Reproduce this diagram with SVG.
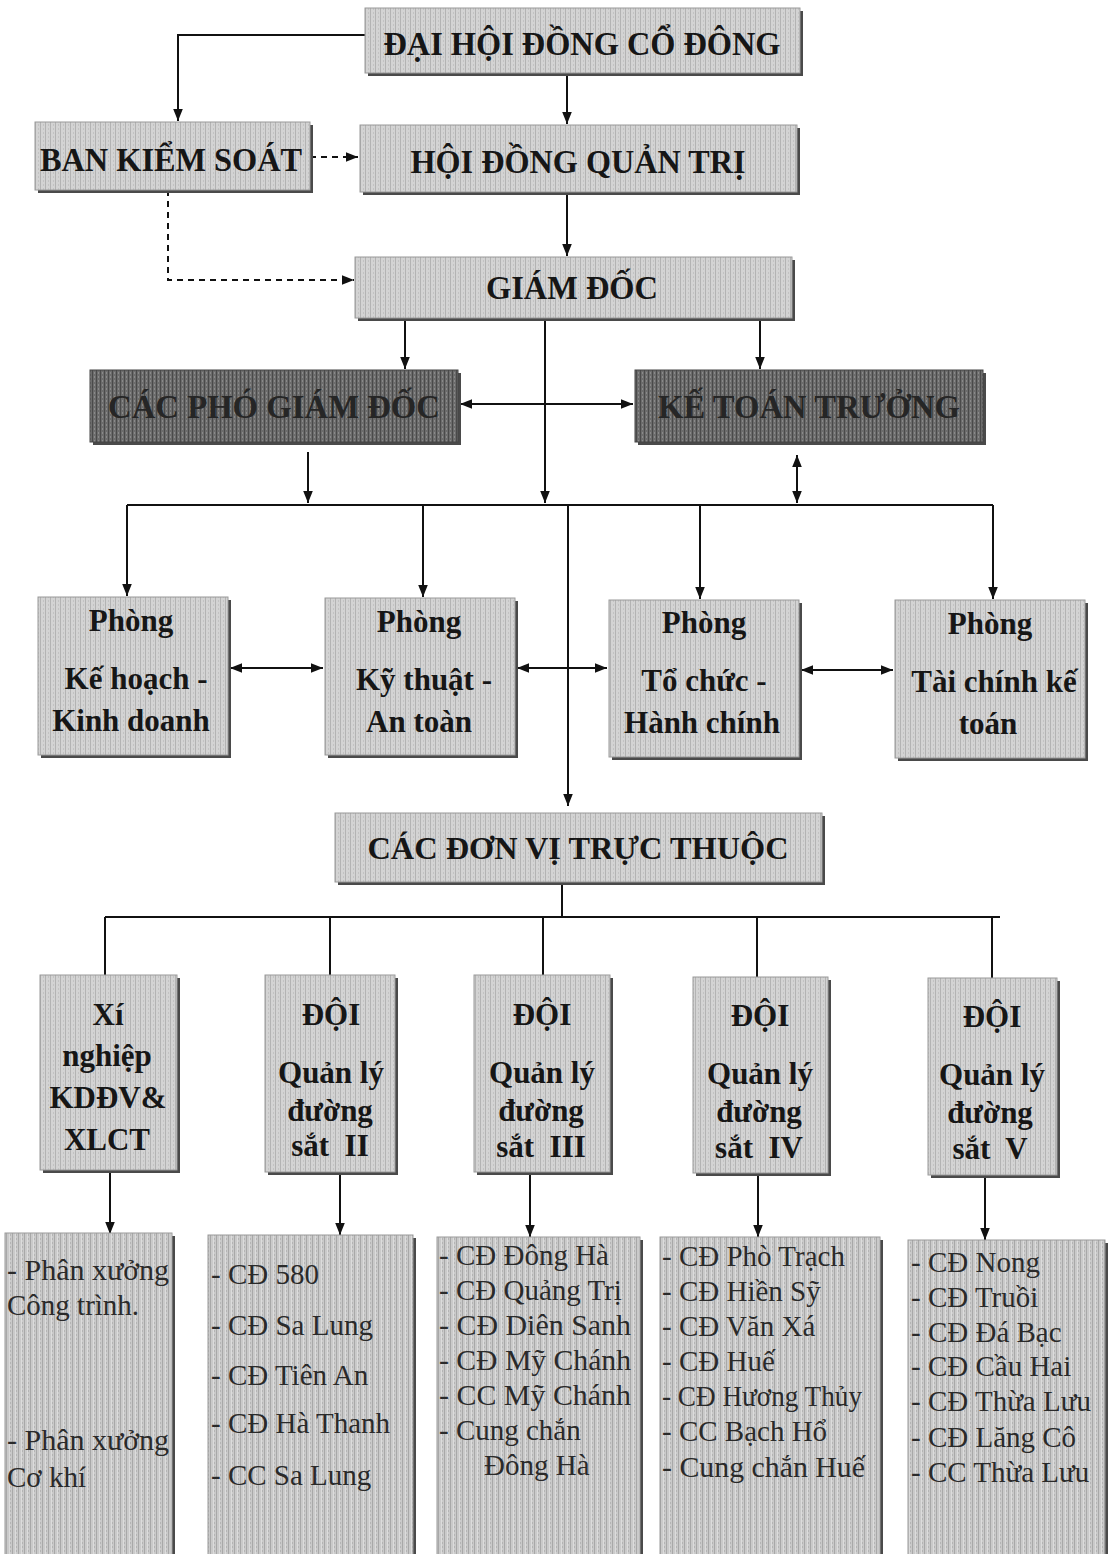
<svg xmlns="http://www.w3.org/2000/svg" width="1108" height="1554" viewBox="0 0 1108 1554">
<style>
.bx{fill:url(#tex);stroke:#9a9a9a;stroke-width:1}
.dk{fill:url(#texd);stroke:#444;stroke-width:1}
.sh{fill:#4a4a4a}
.h{font-family:"Liberation Serif","Times New Roman",serif;font-weight:bold;fill:#161616;text-anchor:middle}
.hd{font-family:"Liberation Serif","Times New Roman",serif;font-weight:bold;fill:#262626;text-anchor:middle}
.p{font-family:"Liberation Serif","Times New Roman",serif;font-weight:bold;font-size:31px;fill:#161616;text-anchor:middle}
.l{font-family:"Liberation Serif","Times New Roman",serif;font-size:29px;fill:#2a2a2a}
.c{fill:none;stroke:#111;stroke-width:2}
.d{fill:none;stroke:#111;stroke-width:2;stroke-dasharray:6 5}
</style>
<defs>
<pattern id="tex" width="5" height="4" patternUnits="userSpaceOnUse"><rect width="5" height="4" fill="#d3d3d3"/><rect width="1" height="4" fill="#b3b3b3"/><rect x="3" width="1" height="2" fill="#c2c2c2"/></pattern>
<pattern id="texl" width="6" height="4" patternUnits="userSpaceOnUse"><rect width="6" height="4" fill="#cacaca"/><rect width="1" height="4" fill="#a8a8a8"/><rect x="3" width="1" height="4" fill="#dcdcdc"/><rect x="4" y="2" width="1" height="2" fill="#b4b4b4"/></pattern>
<pattern id="texd" width="4" height="4" patternUnits="userSpaceOnUse"><rect width="4" height="4" fill="#6c6c6c"/><rect width="1" height="4" fill="#4a4a4a"/><rect x="2" width="1" height="2" fill="#8a8a8a"/></pattern>
<marker id="ah" viewBox="0 0 10 10" refX="10" refY="5" markerWidth="12" markerHeight="12" markerUnits="userSpaceOnUse" orient="auto-start-reverse"><path d="M0,1 L10,5 L0,9 z" fill="#111"/></marker>
</defs>
<rect width="1108" height="1554" fill="#ffffff"/>

<g id="connectors">
<path class="c" d="M365,35 H178 V121" marker-end="url(#ah)"/>
<path class="c" d="M567,73 V124" marker-end="url(#ah)"/>
<path class="d" d="M310,157 H358" marker-end="url(#ah)"/>
<path class="c" d="M567,192 V256" marker-end="url(#ah)"/>
<path class="d" d="M168,190 V280 H354" marker-end="url(#ah)"/>
<path class="c" d="M405,318 V369" marker-end="url(#ah)"/>
<path class="c" d="M545,318 V503" marker-end="url(#ah)"/>
<path class="c" d="M760,318 V369" marker-end="url(#ah)"/>
<path class="c" d="M460,404 H633" marker-start="url(#ah)" marker-end="url(#ah)"/>
<path class="c" d="M308,452 V503" marker-end="url(#ah)"/>
<path class="c" d="M797,455 V503" marker-start="url(#ah)" marker-end="url(#ah)"/>
<path class="c" d="M127,505 H993"/>
<path class="c" d="M127,505 V596" marker-end="url(#ah)"/>
<path class="c" d="M423,505 V597" marker-end="url(#ah)"/>
<path class="c" d="M700,505 V599" marker-end="url(#ah)"/>
<path class="c" d="M993,505 V599" marker-end="url(#ah)"/>
<path class="c" d="M568,505 V806" marker-end="url(#ah)"/>
<path class="c" d="M230,668 H323" marker-start="url(#ah)" marker-end="url(#ah)"/>
<path class="c" d="M517,668 H607" marker-start="url(#ah)" marker-end="url(#ah)"/>
<path class="c" d="M801,670 H893" marker-start="url(#ah)" marker-end="url(#ah)"/>
<path class="c" d="M562,882 V917"/>
<path class="c" d="M105,917 H1000"/>
<path class="c" d="M105,917 V975"/>
<path class="c" d="M330,917 V975"/>
<path class="c" d="M543,917 V975"/>
<path class="c" d="M757,917 V977"/>
<path class="c" d="M992,917 V978"/>
<path class="c" d="M110,1172 V1234" marker-end="url(#ah)"/>
<path class="c" d="M340,1173 V1235" marker-end="url(#ah)"/>
<path class="c" d="M530,1173 V1237" marker-end="url(#ah)"/>
<path class="c" d="M758,1174 V1237" marker-end="url(#ah)"/>
<path class="c" d="M985,1176 V1240" marker-end="url(#ah)"/>
</g>

<g id="dai-hoi-dong-co-dong">
<rect class="sh" x="368" y="11" width="435" height="65"/>
<rect class="bx" x="365" y="8" width="435" height="65"/>
<text class="h" x="582" y="55" font-size="34" textLength="397" lengthAdjust="spacingAndGlyphs">ĐẠI HỘI ĐỒNG CỔ ĐÔNG</text>
</g>
<g id="ban-kiem-soat">
<rect class="sh" x="38" y="125" width="275" height="68"/>
<rect class="bx" x="35" y="122" width="275" height="68"/>
<text class="h" x="171" y="171" font-size="34" textLength="262" lengthAdjust="spacingAndGlyphs">BAN KIỂM SOÁT</text>
</g>
<g id="hoi-dong-quan-tri">
<rect class="sh" x="363" y="128" width="437" height="67"/>
<rect class="bx" x="360" y="125" width="437" height="67"/>
<text class="h" x="578" y="173" font-size="34" textLength="335" lengthAdjust="spacingAndGlyphs">HỘI ĐỒNG QUẢN TRỊ</text>
</g>
<g id="giam-doc">
<rect class="sh" x="358" y="260" width="437" height="61"/>
<rect class="bx" x="355" y="257" width="437" height="61"/>
<text class="h" x="572" y="299" font-size="34" textLength="172" lengthAdjust="spacingAndGlyphs">GIÁM ĐỐC</text>
</g>
<g id="cac-pho-giam-doc">
<rect class="sh" x="93" y="373" width="368" height="72"/>
<rect class="dk" x="90" y="370" width="368" height="72"/>
<text class="hd" x="274" y="418" font-size="34" textLength="332" lengthAdjust="spacingAndGlyphs">CÁC PHÓ GIÁM ĐỐC</text>
</g>
<g id="ke-toan-truong">
<rect class="sh" x="638" y="373" width="348" height="72"/>
<rect class="dk" x="635" y="370" width="348" height="72"/>
<text class="hd" x="809" y="418" font-size="34" textLength="302" lengthAdjust="spacingAndGlyphs">KẾ TOÁN TRƯỞNG</text>
</g>

<g id="phong-ke-hoach">
<rect class="sh" x="41" y="600" width="190" height="158"/>
<rect class="bx" x="38" y="597" width="190" height="158"/>
<text class="p" x="131" y="631">Phòng</text>
<text class="p" x="136" y="689">Kế hoạch -</text>
<text class="p" x="131" y="731">Kinh doanh</text>
</g>
<g id="phong-ky-thuat">
<rect class="sh" x="328" y="601" width="190" height="157"/>
<rect class="bx" x="325" y="598" width="190" height="157"/>
<text class="p" x="419" y="632">Phòng</text>
<text class="p" x="424" y="690">Kỹ thuật -</text>
<text class="p" x="419" y="732">An toàn</text>
</g>
<g id="phong-to-chuc">
<rect class="sh" x="612" y="603" width="190" height="157"/>
<rect class="bx" x="609" y="600" width="190" height="157"/>
<text class="p" x="704" y="633">Phòng</text>
<text class="p" x="704" y="691">Tổ chức -</text>
<text class="p" x="702" y="733">Hành chính</text>
</g>
<g id="phong-tai-chinh">
<rect class="sh" x="898" y="603" width="190" height="158"/>
<rect class="bx" x="895" y="600" width="190" height="158"/>
<text class="p" x="990" y="634">Phòng</text>
<text class="p" x="994" y="692">Tài chính kế</text>
<text class="p" x="988" y="734">toán</text>
</g>

<g id="cac-don-vi-truc-thuoc">
<rect class="sh" x="338" y="816" width="487" height="69"/>
<rect class="bx" x="335" y="813" width="487" height="69"/>
<text class="h" x="578" y="859" font-size="31" textLength="421" lengthAdjust="spacingAndGlyphs">CÁC ĐƠN VỊ TRỰC THUỘC</text>
</g>

<g id="xi-nghiep">
<rect class="sh" x="43" y="978" width="137" height="195"/>
<rect class="bx" x="40" y="975" width="137" height="195"/>
<text class="p" x="108" y="1025">Xí</text>
<text class="p" x="107" y="1066">nghiệp</text>
<text class="p" x="108" y="1108">KDĐV&amp;</text>
<text class="p" x="107" y="1150">XLCT</text>
</g>
<g id="doi-ii">
<rect class="sh" x="268" y="978" width="130" height="197"/>
<rect class="bx" x="265" y="975" width="130" height="197"/>
<text class="p" x="331" y="1025">ĐỘI</text>
<text class="p" x="331" y="1083">Quản lý</text>
<text class="p" x="330" y="1121">đường</text>
<text class="p" x="330" y="1156" xml:space="preserve">sắt  II</text>
</g>
<g id="doi-iii">
<rect class="sh" x="477" y="978" width="136" height="197"/>
<rect class="bx" x="474" y="975" width="136" height="197"/>
<text class="p" x="542" y="1025">ĐỘI</text>
<text class="p" x="542" y="1083">Quản lý</text>
<text class="p" x="541" y="1121">đường</text>
<text class="p" x="541" y="1157" xml:space="preserve">sắt  III</text>
</g>
<g id="doi-iv">
<rect class="sh" x="696" y="980" width="135" height="196"/>
<rect class="bx" x="693" y="977" width="135" height="196"/>
<text class="p" x="760" y="1026">ĐỘI</text>
<text class="p" x="760" y="1084">Quản lý</text>
<text class="p" x="759" y="1122">đường</text>
<text class="p" x="759" y="1158" xml:space="preserve">sắt  IV</text>
</g>
<g id="doi-v">
<rect class="sh" x="931" y="981" width="129" height="197"/>
<rect class="bx" x="928" y="978" width="129" height="197"/>
<text class="p" x="992" y="1027">ĐỘI</text>
<text class="p" x="992" y="1085">Quản lý</text>
<text class="p" x="990" y="1123">đường</text>
<text class="p" x="990" y="1159" xml:space="preserve">sắt  V</text>
</g>

<g id="list-xi-nghiep">
<rect class="sh" x="8" y="1236" width="167" height="320"/>
<rect x="5" y="1233" width="167" height="325" fill="url(#texl)" stroke="#9a9a9a"/>
<text class="l" x="7" y="1280" textLength="162" lengthAdjust="spacingAndGlyphs">- Phân xưởng</text>
<text class="l" x="7" y="1315">Công trình.</text>
<text class="l" x="7" y="1450" textLength="162" lengthAdjust="spacingAndGlyphs">- Phân xưởng</text>
<text class="l" x="7" y="1487">Cơ khí</text>
</g>
<g id="list-doi-ii">
<rect class="sh" x="211" y="1238" width="205" height="320"/>
<rect x="208" y="1235" width="205" height="325" fill="url(#texl)" stroke="#9a9a9a"/>
<text class="l" x="211" y="1284" font-size="32">- CĐ 580</text>
<text class="l" x="211" y="1335">- CĐ Sa Lung</text>
<text class="l" x="211" y="1385">- CĐ Tiên An</text>
<text class="l" x="211" y="1433">- CĐ Hà Thanh</text>
<text class="l" x="211" y="1485">- CC Sa Lung</text>
</g>
<g id="list-doi-iii">
<rect class="sh" x="440" y="1240" width="203" height="320"/>
<rect x="437" y="1237" width="203" height="325" fill="url(#texl)" stroke="#9a9a9a"/>
<text class="l" x="439" y="1265">- CĐ Đông Hà</text>
<text class="l" x="439" y="1300">- CĐ Quảng Trị</text>
<text class="l" x="439" y="1335" textLength="192" lengthAdjust="spacingAndGlyphs">- CĐ Diên Sanh</text>
<text class="l" x="439" y="1370" textLength="192" lengthAdjust="spacingAndGlyphs">- CĐ Mỹ Chánh</text>
<text class="l" x="439" y="1405" textLength="192" lengthAdjust="spacingAndGlyphs">- CC Mỹ Chánh</text>
<text class="l" x="439" y="1440">- Cung chắn</text>
<text class="l" x="484" y="1475">Đông Hà</text>
</g>
<g id="list-doi-iv">
<rect class="sh" x="663" y="1240" width="220" height="320"/>
<rect x="660" y="1237" width="220" height="325" fill="url(#texl)" stroke="#9a9a9a"/>
<text class="l" x="662" y="1266">- CĐ Phò Trạch</text>
<text class="l" x="662" y="1301">- CĐ Hiền Sỹ</text>
<text class="l" x="662" y="1336">- CĐ Văn Xá</text>
<text class="l" x="662" y="1371">- CĐ Huế</text>
<text class="l" x="662" y="1406" textLength="200" lengthAdjust="spacingAndGlyphs">- CĐ Hương Thủy</text>
<text class="l" x="662" y="1441">- CC Bạch Hổ</text>
<text class="l" x="662" y="1477" textLength="203" lengthAdjust="spacingAndGlyphs">- Cung chắn Huế</text>
</g>
<g id="list-doi-v">
<rect class="sh" x="911" y="1243" width="197" height="320"/>
<rect x="908" y="1240" width="197" height="325" fill="url(#texl)" stroke="#9a9a9a"/>
<text class="l" x="911" y="1272">- CĐ Nong</text>
<text class="l" x="911" y="1307">- CĐ Truồi</text>
<text class="l" x="911" y="1342">- CĐ Đá Bạc</text>
<text class="l" x="911" y="1376">- CĐ Cầu Hai</text>
<text class="l" x="911" y="1411">- CĐ Thừa Lưu</text>
<text class="l" x="911" y="1447">- CĐ Lăng Cô</text>
<text class="l" x="911" y="1482">- CC Thừa Lưu</text>
</g>
</svg>
